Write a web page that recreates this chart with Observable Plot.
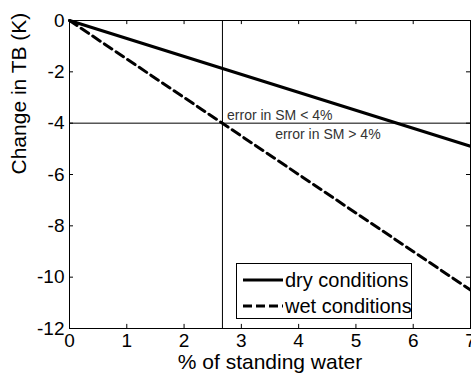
<!DOCTYPE html>
<html><head><meta charset="utf-8">
<script src="https://cdn.jsdelivr.net/npm/d3@7"></script>
<script src="https://cdn.jsdelivr.net/npm/@observablehq/plot@0.6"></script>
<style>
body{margin:0;background:#fff;font-family:"Liberation Sans",Arial,sans-serif;}
#wrap{position:relative;width:471px;height:373px;overflow:hidden;}
#legend{position:absolute;left:236px;top:263px;width:174px;height:54px;border:1px solid #000;background:#fff;font-size:20px;}
#legend .row{position:absolute;left:5px;height:22px;display:flex;align-items:center;white-space:nowrap;}
#legend svg{margin-right:1px;flex:none}
</style></head>
<body><div id="wrap"><div id="legend"></div></div>
<script>
const pct = [0, 7];
const dry = [0, -4.9];
const wet = [0, -10.5];
const xTicks = [0,1,2,3,4,5,6,7];
const yTicks = [0,-2,-4,-6,-8,-10,-12];
const thresholdX = [2.67];
const thresholdY = [-4];
const notes = [
  {x: 2.75, y: -3.88, text: "error in SM < 4%"},
  {x: 3.59, y: -4.6, text: "error in SM > 4%"}
];
const seriesNames = ["dry conditions", "wet conditions"];
const xLabel = "% of standing water";
const yLabel = "Change in TB (K)";

const dryData = pct.map((x,i)=>({x, y: dry[i]}));
const wetData = pct.map((x,i)=>({x, y: wet[i]}));
const tickLenX = 0.16; // in y units for x ticks
const tickLenY = 0.07; // in x units for y ticks
const fmt = d => String(d).replace("−","-");

const chart = Plot.plot({
  width: 471, height: 373,
  marginLeft: 69, marginTop: 20, marginBottom: 45, marginRight: 1,
  style: {fontFamily: '"Liberation Sans", Arial, sans-serif', fontSize: "19px", color: "#000", background: "#fff"},
  x: {domain: [0,7]},
  y: {domain: [-12,0]},
  marks: [
    Plot.ruleX(thresholdX, {stroke: "#000", strokeWidth: 1}),
    Plot.ruleY(thresholdY, {stroke: "#000", strokeWidth: 1}),
    Plot.ruleX(xTicks, {y1: -12, y2: -12 + tickLenX, stroke: "#000"}),
    Plot.ruleX(xTicks, {y1: 0, y2: -tickLenX, stroke: "#000"}),
    Plot.ruleY(yTicks, {x1: 0, x2: tickLenY, stroke: "#000"}),
    Plot.ruleY(yTicks, {x1: 7, x2: 7 - tickLenY, stroke: "#000"}),
    Plot.line(dryData, {x: "x", y: "y", stroke: "#000", strokeWidth: 3}),
    Plot.line(wetData, {x: "x", y: "y", stroke: "#000", strokeWidth: 3, strokeDasharray: "9,5"}),
    Plot.text(notes, {x: "x", y: "y", text: "text", textAnchor: "start", lineAnchor: "bottom", fontSize: 14, fill: "#333"}),
    Plot.frame({stroke: "#000"}),
    Plot.axisX({ticks: xTicks, tickSize: 0, tickPadding: 5, fontSize: 19, tickFormat: fmt, label: null}),
    Plot.axisY({ticks: yTicks, tickSize: 0, tickPadding: 5, fontSize: 19, tickFormat: fmt, label: null}),
    Plot.text([xLabel], {frameAnchor: "bottom", text: d=>d, dy: 40, lineAnchor: "bottom", fontSize: 21}),
    Plot.text([yLabel], {frameAnchor: "left", text: d=>d, dx: -50, rotate: -90, fontSize: 21})
  ]
});
document.getElementById("wrap").prepend(chart);

const leg = document.getElementById("legend");
seriesNames.forEach((name,i)=>{
  const row = document.createElement("div");
  row.className = "row";
  row.style.top = (i===0 ? 5 : 31) + "px";
  row.innerHTML = `<svg width="42" height="6"><line x1="1" y1="3" x2="41" y2="3" stroke="#000" stroke-width="3" ${i===1?'stroke-dasharray="9,4"':''}/></svg><span>${name}</span>`;
  leg.appendChild(row);
});
</script></body></html>
